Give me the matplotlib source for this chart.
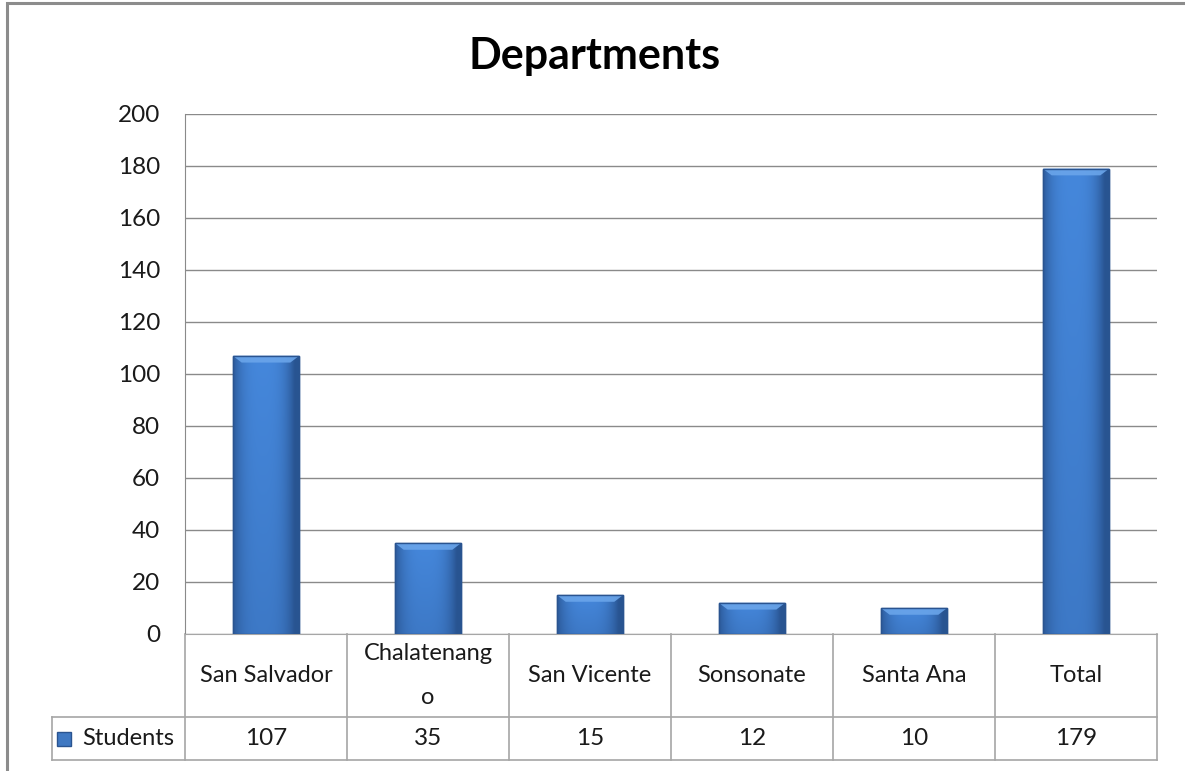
import numpy as np
import matplotlib.pyplot as plt
from matplotlib.patches import Rectangle, Polygon
from matplotlib.transforms import blended_transform_factory

# data
categories = ["San Salvador", "Chalatenang\no", "San Vicente", "Sonsonate", "Santa Ana", "Total"]
students = [107, 35, 15, 12, 10, 179]
series_name = "Students"
yticks = [0, 20, 40, 60, 80, 100, 120, 140, 160, 180, 200]

plt.rcParams['font.family'] = ['Lato', 'DejaVu Sans']

W, H = 1185, 771
fig = plt.figure(figsize=(W / 100, H / 100), dpi=100)
ax = fig.add_axes([185 / W, 1 - 634 / H, 972 / W, 520 / H])

grid_c = '#8a8a8a'
tbl_c = '#a6a6a6'
txt_c = '#1a1a1a'

x = np.arange(len(categories))
bw = 0.41


def bar_img():
    u = np.linspace(0, 1, 60)
    v = np.linspace(0, 1, 200)[:, None]
    # light in the middle, darker at the sides and towards the bottom
    s = 1 - np.clip(np.abs(u - 0.45) * 2.1, 0, 1) ** 3
    s = s[None, :] * (0.72 + 0.28 * v)
    dark = np.array([0.16, 0.33, 0.57])
    light = np.array([0.27, 0.53, 0.86])
    return dark + (light - dark) * s[..., None]


img = bar_img()
for xi, val in zip(x, students):
    x0, x1 = xi - bw / 2, xi + bw / 2
    rect = Rectangle((x0, 0), bw, val, facecolor='#3f78c2', edgecolor='#2a5490',
                     lw=1.0, zorder=3)
    ax.add_patch(rect)
    im = ax.imshow(img, extent=[x0, x1, 0, val], origin='lower', aspect='auto',
                   zorder=3.1, interpolation='bilinear')
    im.set_clip_path(rect)
    dy = min(2.6, val * 0.3)
    dx = 0.055
    bevel = Polygon([[x0, val], [x1, val], [x1 - dx, val - dy], [x0 + dx, val - dy]],
                    closed=True, facecolor='#6aa5ea', edgecolor='none', alpha=0.9, zorder=3.2)
    ax.add_patch(bevel)
    ax.add_patch(Rectangle((x0, 0), bw, val, facecolor='none', edgecolor='#2a5490',
                           lw=1.0, zorder=3.3))

ax.set_xlim(-0.5, len(categories) - 0.5)
ax.set_ylim(0, 200)
ax.set_yticks(yticks)
ax.set_xticks([])
ax.yaxis.grid(True, color=grid_c, lw=1.0)
ax.set_axisbelow(True)
ax.tick_params(axis='y', length=0, pad=18, labelsize=17.5, labelcolor=txt_c)
for s in ['top', 'right']:
    ax.spines[s].set_visible(False)
ax.spines['left'].set_color(grid_c)
ax.spines['bottom'].set_color(tbl_c)

fig.text(595 / W, 1 - 56 / H, "Departments", ha='center', va='center', fontsize=31,
         fontweight='bold', color='black')

# data table below the plot
bt = blended_transform_factory(ax.transData, ax.transAxes)
y_cat = -83 / 520
y_val = -126 / 520
x_leg = (52 - 185) / 972
for b in np.arange(-0.5, len(categories), 1.0):
    ax.plot([b, b], [0, y_val], color=tbl_c, lw=1.2, transform=bt, clip_on=False)
ax.plot([x_leg, 1], [y_cat, y_cat], color=tbl_c, lw=1.2, transform=ax.transAxes, clip_on=False)
ax.plot([x_leg, 1], [y_val, y_val], color=tbl_c, lw=1.2, transform=ax.transAxes, clip_on=False)
ax.plot([x_leg, x_leg], [y_cat, y_val], color=tbl_c, lw=1.2, transform=ax.transAxes, clip_on=False)

for xi, cat, val in zip(x, categories, students):
    ax.text(xi, y_cat / 2, cat, ha='center', va='center', fontsize=17, color=txt_c,
            transform=bt, linespacing=2.3)
    ax.text(xi, (y_cat + y_val) / 2, str(val), ha='center', va='center', fontsize=17.5,
            color=txt_c, transform=bt)

ax.plot([(64 - 185) / 972], [(y_cat + y_val) / 2], marker='s', ms=10, color='#3f78c2',
        mec='#2a5490', transform=ax.transAxes, clip_on=False)
ax.text((82 - 185) / 972, (y_cat + y_val) / 2, series_name, ha='left', va='center',
        fontsize=17, color=txt_c, transform=ax.transAxes)

# chart area border
fig.patches.append(Rectangle((6.5 / W, -0.1), 1.2, 1.1 - 2.5 / H, transform=fig.transFigure,
                             fill=False, edgecolor='#8c8c8c', lw=2.2))

fig.savefig("out.png", dpi=100)
